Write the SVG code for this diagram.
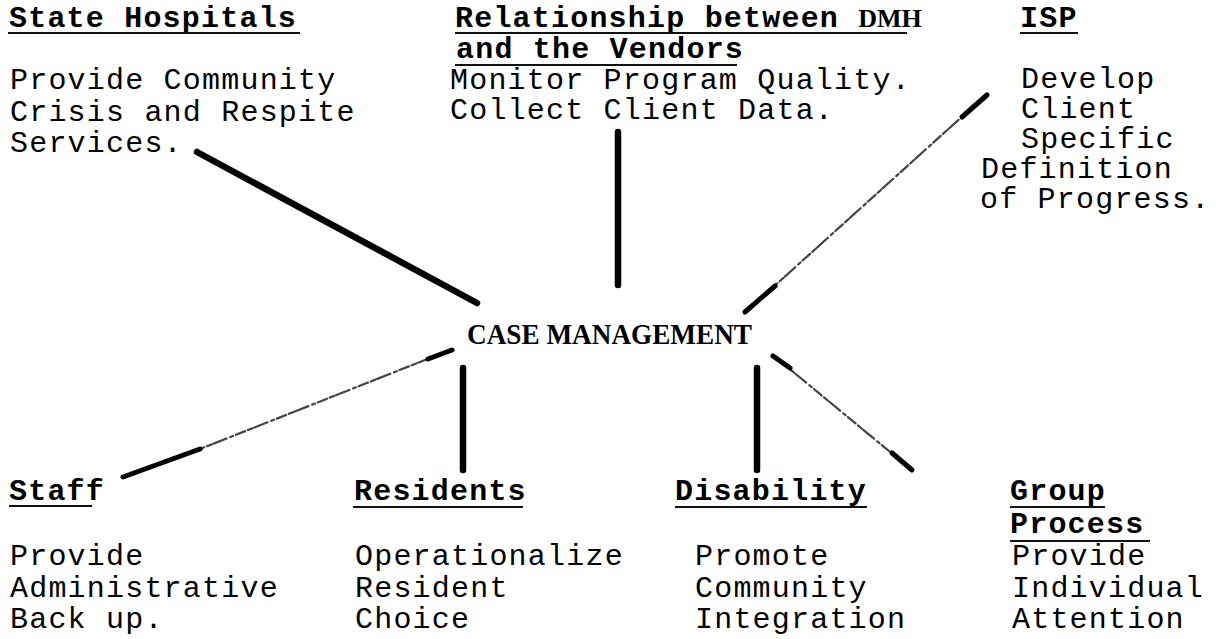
<svg xmlns="http://www.w3.org/2000/svg" width="1216" height="639" viewBox="0 0 1216 639">
  <style>
    .t { font-family: "Liberation Mono", "Courier New", monospace; font-size: 30px; letter-spacing: 1.2px; fill: #000; }
    .h { font-family: "Liberation Mono", "Courier New", monospace; font-size: 30px; letter-spacing: 1.2px; font-weight: bold; fill: #000; }
    .serif { font-family: "Liberation Serif", "Times New Roman", serif; font-weight: bold; letter-spacing: 0; }
    .ul { stroke: #111; stroke-width: 1.8; }
    .bold { stroke: #000; stroke-width: 6.5; stroke-linecap: round; fill: none; }
    .end { stroke: #000; stroke-width: 5; stroke-linecap: round; fill: none; }
    .faint { stroke: #444; stroke-width: 2.2; stroke-linecap: round; fill: none; stroke-dasharray: 10 3 5 2 14 4 3 3; }
  </style>

  <rect width="1216" height="639" fill="#fff"/>

  <!-- spokes radiating from the centre -->
  <g id="connectors">
    <path class="bold" d="M197,152 L477,303"/>
    <path class="bold" d="M618,132 L618,285"/>
    <g id="c-isp">
      <path class="faint" d="M770,290 L965,114"/>
      <path class="end" d="M745,312 L775,286"/>
      <path class="end" d="M962,117 L987,95"/>
    </g>
    <g id="c-staff">
      <path class="faint" d="M195,451 L430,358"/>
      <path class="end" d="M123,477 L200,449"/>
      <path class="end" d="M428,359 L452,350"/>
    </g>
    <path class="bold" d="M463,368 L463,470"/>
    <path class="bold" d="M757,368 L757,470"/>
    <g id="c-group">
      <path class="faint" d="M780,361 L895,456"/>
      <path class="end" d="M773,356 L790,368"/>
      <path class="end" d="M892,453 L912,470"/>
    </g>
  </g>

  <g id="center">
    <text x="467" y="344" font-family="Liberation Serif, Times New Roman, serif" font-weight="bold" font-size="29" textLength="285" lengthAdjust="spacingAndGlyphs" fill="#000">CASE MANAGEMENT</text>
  </g>

  <g id="state-hospitals">
    <text class="h" x="9" y="27">State Hospitals</text>
    <line class="ul" x1="8" y1="33" x2="300" y2="33"/>
    <text class="t" x="10" y="89">Provide Community</text>
    <text class="t" x="10" y="121">Crisis and Respite</text>
    <text class="t" x="10" y="152">Services.</text>
  </g>

  <g id="dmh-vendors">
    <text class="h" x="455" y="27">Relationship between <tspan class="serif" font-size="26">DMH</tspan></text>
    <line class="ul" x1="455" y1="33" x2="907" y2="33"/>
    <text class="h" x="456" y="58">and the Vendors</text>
    <line class="ul" x1="455" y1="65" x2="737" y2="65"/>
    <text class="t" x="450" y="89">Monitor Program Quality.</text>
    <text class="t" x="450" y="119">Collect Client Data.</text>
  </g>

  <g id="isp">
    <text class="h" x="1020" y="27">ISP</text>
    <line class="ul" x1="1020" y1="33" x2="1078" y2="33"/>
    <text class="t" x="1021" y="88">Develop</text>
    <text class="t" x="1021" y="118">Client</text>
    <text class="t" x="1021" y="148">Specific</text>
    <text class="t" x="981" y="178">Definition</text>
    <text class="t" x="980" y="208">of Progress.</text>
  </g>

  <g id="staff">
    <text class="h" x="9" y="500">Staff</text>
    <line class="ul" x1="9" y1="506" x2="92" y2="506"/>
    <text class="t" x="10" y="565">Provide</text>
    <text class="t" x="10" y="597">Administrative</text>
    <text class="t" x="10" y="628">Back up.</text>
  </g>

  <g id="residents">
    <text class="h" x="354" y="500">Residents</text>
    <line class="ul" x1="353" y1="507" x2="523" y2="507"/>
    <text class="t" x="355" y="565">Operationalize</text>
    <text class="t" x="355" y="597">Resident</text>
    <text class="t" x="355" y="628">Choice</text>
  </g>

  <g id="disability">
    <text class="h" x="675" y="500">Disability</text>
    <line class="ul" x1="675" y1="507" x2="867" y2="507"/>
    <text class="t" x="695" y="565">Promote</text>
    <text class="t" x="695" y="597">Community</text>
    <text class="t" x="695" y="628">Integration</text>
  </g>

  <g id="group-process">
    <text class="h" x="1010" y="500">Group</text>
    <line class="ul" x1="1010" y1="507" x2="1105" y2="507"/>
    <text class="h" x="1010" y="533">Process</text>
    <line class="ul" x1="1010" y1="541" x2="1150" y2="541"/>
    <text class="t" x="1012" y="565">Provide</text>
    <text class="t" x="1012" y="597">Individual</text>
    <text class="t" x="1012" y="628">Attention</text>
  </g>
</svg>
